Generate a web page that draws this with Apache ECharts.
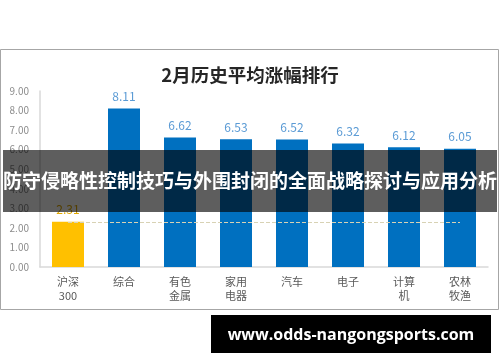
<!DOCTYPE html>
<html>
<head>
<meta charset="utf-8">
<script src="https://cdn.jsdelivr.net/npm/echarts@6/dist/echarts.min.js"></script>
<style>
html,body{margin:0;padding:0;background:#fff;}
#chart{width:500px;height:362px;}
</style>
</head>
<body>
<div id="chart"></div>
<script>
var titleText = '2月历史平均涨幅排行';
var categories = ['沪深\n300', '综合', '有色\n金属', '家用\n电器', '汽车', '电子', '计算\n机', '农林\n牧渔'];
var values = [2.31, 8.11, 6.62, 6.53, 6.52, 6.32, 6.12, 6.05];
var benchmarkValue = 2.31;
var yTicks = [0, 1, 2, 3, 4, 5, 6, 7, 8, 9];
var bannerText = '防守侵略性控制技巧与外围封闭的全面战略探讨与应用分析';
var siteText = 'www.odds-nangongsports.com';

var cjk = '"Noto Sans CJK SC", "Noto Sans", sans-serif';
var chart = echarts.init(document.getElementById('chart'), null, {renderer: 'canvas'});

var barData = values.map(function (v, i) {
  return {
    value: v,
    itemStyle: {color: i === 0 ? '#FFC000' : '#0070C0'},
    label: {color: i === 0 ? '#E0A800' : '#5B9BD5'}
  };
});

chart.setOption({
  animation: false,
  backgroundColor: '#fff',
  title: {
    text: titleText,
    left: 'center',
    top: 61,
    textStyle: {fontFamily: cjk, fontSize: 18.5, fontWeight: 'bold', color: '#262626'}
  },
  grid: {left: 40, right: 12, top: 91, bottom: 95},
  xAxis: {
    type: 'category',
    data: categories,
    axisLine: {lineStyle: {color: '#d9d9d9', width: 1.5}},
    axisTick: {show: false},
    axisLabel: {fontFamily: cjk, fontSize: 11, color: '#595959', lineHeight: 14, margin: 8, interval: 0}
  },
  yAxis: {
    type: 'value',
    min: yTicks[0],
    max: yTicks[yTicks.length - 1],
    interval: 1,
    axisLine: {show: true, lineStyle: {color: '#d9d9d9', width: 1.5}},
    axisTick: {show: false},
    splitLine: {show: false},
    axisLabel: {fontFamily: cjk, fontSize: 10, color: '#8c8c8c', margin: 11,
      formatter: function (v) { return v.toFixed(2); }}
  },
  series: [{
    type: 'bar',
    data: barData,
    barWidth: 32,
    label: {show: true, position: 'top', fontFamily: cjk, fontSize: 12, distance: 6,
      formatter: function (p) { return p.value.toFixed(2); }},
    markLine: {
      silent: true,
      symbol: 'none',
      label: {show: false},
      lineStyle: {type: 'dashed', color: '#d8d2b4', width: 1},
      data: [[{coord: [0, benchmarkValue]}, {coord: [categories.length - 1, benchmarkValue]}]]
    }
  }],
  graphic: [
    {type: 'rect', z: -10, shape: {x: 0.5, y: 49.5, width: 498, height: 260},
      style: {fill: 'none', stroke: '#a6a6a6', lineWidth: 1}},
    {type: 'rect', z: 100, shape: {x: 3, y: 150, width: 494, height: 62},
      style: {fill: 'rgba(0,0,0,0.63)'}},
    {type: 'text', z: 101, x: 250, y: 181,
      style: {text: bannerText, fill: '#fff', font: 'bold 19px ' + cjk, textAlign: 'center', textVerticalAlign: 'middle'}},
    {type: 'rect', z: 100, shape: {x: 211, y: 315, width: 280, height: 38},
      style: {fill: '#000'}},
    {type: 'text', z: 101, x: 351, y: 335,
      style: {text: siteText, fill: '#fff', font: 'bold 16px "Open Sans", "DejaVu Sans", sans-serif', textAlign: 'center', textVerticalAlign: 'middle'}}
  ]
});
</script>
</body>
</html>
